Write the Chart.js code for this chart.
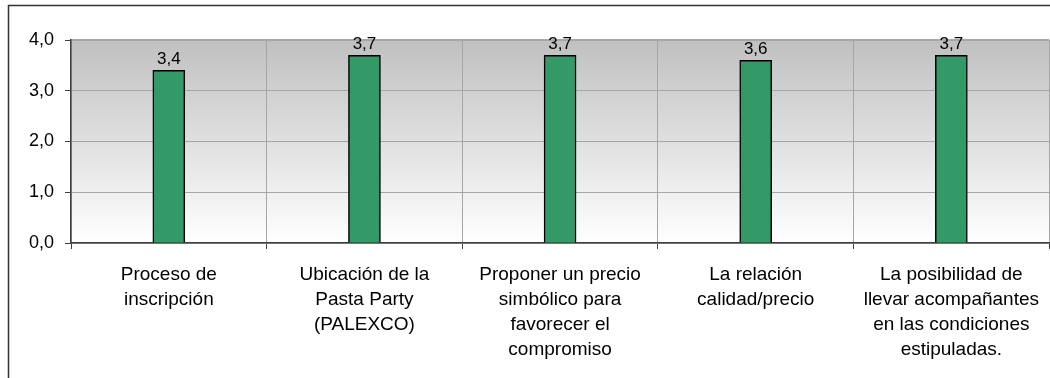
<!DOCTYPE html>
<html>
<head>
<meta charset="utf-8">
<script src="https://cdn.jsdelivr.net/npm/chart.js@4"></script>
<style>
  body { margin: 0; background: #fff; overflow: hidden; }
  #wrap { width: 1052px; height: 378px; position: relative; }
</style>
</head>
<body>
<div id="wrap"><canvas id="myChart"></canvas></div>
<script>
// Categories (wrapped the way the original shows them) and mean scores.
const categories = [
    ['Proceso de', 'inscripción'],
    ['Ubicación de la', 'Pasta Party', '(PALEXCO)'],
    ['Proponer un precio', 'simbólico para', 'favorecer el', 'compromiso'],
    ['La relación', 'calidad/precio'],
    ['La posibilidad de', 'llevar acompañantes', 'en las condiciones', 'estipuladas.']
];
const scores = [3.4, 3.7, 3.7, 3.6, 3.7];
const yTicks = [0, 1, 2, 3, 4];

Chart.defaults.font.family = "'Liberation Sans', Arial, sans-serif";
Chart.defaults.color = '#000';

// Fmt numbers with a decimal comma.
const fmt = v => v.toFixed(1).replace('.', ',');

// Grey-to-white background behind the plot + frame around the whole chart.
const backdrop = {
    id: 'backdrop',
    beforeDraw(chart) {
        const { ctx, chartArea: a } = chart;
        ctx.save();
        const g = ctx.createLinearGradient(0, a.top, 0, a.bottom);
        g.addColorStop(0, '#c0c0c0');
        g.addColorStop(1, '#ffffff');
        ctx.fillStyle = g;
        ctx.fillRect(a.left, a.top, a.right - a.left, a.bottom - a.top);
        ctx.strokeStyle = '#333';
        ctx.lineWidth = 1.5;
        ctx.strokeRect(8.5, 5.5, 1200, 600);
        // darker line along the top of the plot
        ctx.strokeStyle = '#8c8c8c';
        ctx.lineWidth = 1.5;
        ctx.beginPath();
        ctx.moveTo(a.left, a.top);
        ctx.lineTo(a.right, a.top);
        ctx.stroke();
        ctx.restore();
    }
};

// Value labels above each bar.
const valueLabels = {
    id: 'valueLabels',
    afterDatasetsDraw(chart) {
        const { ctx } = chart;
        const meta = chart.getDatasetMeta(0);
        ctx.save();
        ctx.font = "17px 'Liberation Sans', Arial, sans-serif";
        ctx.fillStyle = '#000';
        ctx.textAlign = 'center';
        ctx.textBaseline = 'alphabetic';
        meta.data.forEach((bar, i) => {
            ctx.fillText(fmt(scores[i]), bar.x, bar.y - 6);
        });
        ctx.restore();
    }
};

new Chart(document.getElementById('myChart'), {
    type: 'bar',
    data: {
        labels: categories,
        datasets: [{
            data: scores,
            backgroundColor: '#339966',
            borderColor: '#000',
            borderWidth: 1.5,
            barThickness: 32
        }]
    },
    options: {
        responsive: true,
        maintainAspectRatio: false,
        animation: false,
        layout: { padding: { top: 40, left: 0, right: 0, bottom: 0 } },
        plugins: {
            legend: { display: false },
            tooltip: { enabled: false }
        },
        scales: {
            x: {
                grid: {
                    offset: true,
                    color: '#a6a6a6',
                    tickColor: '#404040',
                    tickLength: 6
                },
                border: { color: '#404040', width: 1.5 },
                ticks: {
                    font: { size: 19, lineHeight: 25 / 19 },
                    padding: 13,
                    maxRotation: 0,
                    autoSkip: false
                },
                afterFit(s) { s.height = 135; }
            },
            y: {
                min: 0,
                max: 4,
                afterBuildTicks(s) { s.ticks = yTicks.map(v => ({ value: v })); },
                grid: {
                    color: '#a6a6a6',
                    tickColor: '#404040',
                    tickLength: 6
                },
                border: { color: '#404040', width: 1.5 },
                ticks: {
                    font: { size: 18 },
                    padding: 11,
                    callback: v => fmt(v)
                },
                afterFit(s) { s.width = 71; }
            }
        }
    },
    plugins: [backdrop, valueLabels]
});
</script>
</body>
</html>
